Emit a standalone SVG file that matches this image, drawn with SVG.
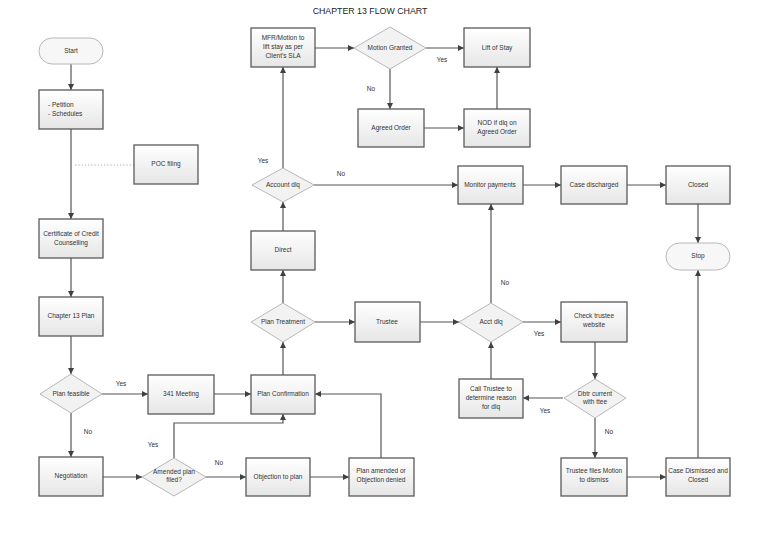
<svg xmlns="http://www.w3.org/2000/svg" width="768" height="543" viewBox="0 0 768 543">
<defs>
<linearGradient id="g" x1="0" y1="0" x2="0" y2="1"><stop offset="0" stop-color="#ffffff"/><stop offset="1" stop-color="#e6e6e6"/></linearGradient>
<marker id="a" viewBox="0 0 10 10" refX="10" refY="5" markerWidth="6" markerHeight="6" orient="auto" markerUnits="userSpaceOnUse"><path d="M0,0 L10,5 L0,10 z" fill="#404040"/></marker>
<style>
.b{fill:url(#g);stroke:#5a5a5a;stroke-width:1.3}
.d{fill:#f2f2f2;stroke:#b8b8b8;stroke-width:1}
.t{fill:#f7f7f7;stroke:#b8b8b8;stroke-width:1}
text{font-family:"Liberation Sans",Arial,sans-serif;font-size:6.5px;fill:#333;text-anchor:middle}
.c path{fill:none;stroke:#555;stroke-width:1.2;marker-end:url(#a)}
.c .dot{marker-end:none;stroke:#aaa;stroke-dasharray:1.2 2;stroke-width:1}
</style>
</defs>
<rect width="768" height="543" fill="#fff"/>
<text x="370" y="14" style="font-size:8.8px;fill:#222">CHAPTER 13 FLOW CHART</text>
<g class="c" id="connectors">
<path d="M71,64 V90"/>
<path d="M71,129 V219"/>
<path class="dot" d="M134,165 H74"/>
<path d="M71,258 V297"/>
<path d="M71,336 V374"/>
<path d="M102,394 H148"/>
<path d="M71,413 V457"/>
<path d="M214,394 H251"/>
<path d="M103,477 H142"/>
<path d="M206,477 H246"/>
<path d="M174,458 V423 H283 V414"/>
<path d="M310,477 H349"/>
<path d="M381,458 V394 H315"/>
<path d="M283,375 V342"/>
<path d="M283,303 V270"/>
<path d="M315,322 H355"/>
<path d="M283,231 V202"/>
<path d="M283,168 V67"/>
<path d="M314,185 H458"/>
<path d="M315,48 H354"/>
<path d="M426,48 H464"/>
<path d="M390,69 V109"/>
<path d="M424,128 H464"/>
<path d="M497,109 V67"/>
<path d="M420,322 H459"/>
<path d="M491,303 V204"/>
<path d="M523,322 H561"/>
<path d="M595,342 V379"/>
<path d="M563,398 H523"/>
<path d="M491,379 V342"/>
<path d="M595,418 V458"/>
<path d="M627,477 H666"/>
<path d="M698,458 V270"/>
<path d="M523,185 H561"/>
<path d="M627,185 H666"/>
<path d="M698,204 V243"/>
</g>
<g id="labels">
<text x="121" y="386">Yes</text>
<text x="88" y="434">No</text>
<text x="153" y="447">Yes</text>
<text x="219" y="465">No</text>
<text x="263" y="163">Yes</text>
<text x="341" y="176">No</text>
<text x="442" y="62">Yes</text>
<text x="371" y="91">No</text>
<text x="505" y="285">No</text>
<text x="539" y="336">Yes</text>
<text x="545" y="413">Yes</text>
<text x="609" y="434">No</text>
</g>
<g id="start"><rect class="t" x="39" y="38" width="64" height="26" rx="13"/><text x="71" y="53">Start</text></g>
<g id="petition"><rect class="b" x="39" y="90" width="64" height="39"/><text x="48" y="107" style="text-anchor:start">- Petition</text><text x="48" y="116" style="text-anchor:start">- Schedules</text></g>
<g id="poc"><rect class="b" x="134" y="145" width="64" height="39"/><text x="166" y="166">POC filing</text></g>
<g id="certificate"><rect class="b" x="39" y="219" width="64" height="39"/><text x="71" y="236">Certificate of Credit</text><text x="71" y="245">Counselling</text></g>
<g id="chapter13"><rect class="b" x="39" y="297" width="64" height="39"/><text x="71" y="318">Chapter 13 Plan</text></g>
<g id="planfeasible"><polygon class="d" points="71,374 102,394 71,413 40,394"/><text x="71" y="396">Plan feasible</text></g>
<g id="meeting341"><rect class="b" x="148" y="375" width="66" height="39"/><text x="181" y="396">341 Meeting</text></g>
<g id="negotiation"><rect class="b" x="39" y="457" width="64" height="39"/><text x="71" y="478">Negotiation</text></g>
<g id="amended"><polygon class="d" points="174,458 206,477 174,496 142,477"/><text x="174" y="474">Amended plan</text><text x="174" y="482">filed?</text></g>
<g id="planconfirmation"><rect class="b" x="251" y="375" width="64" height="39"/><text x="283" y="396">Plan Confirmation</text></g>
<g id="objection"><rect class="b" x="246" y="458" width="64" height="38"/><text x="278" y="479">Objection to plan</text></g>
<g id="planamended"><rect class="b" x="349" y="458" width="65" height="38"/><text x="381" y="473">Plan amended or</text><text x="381" y="482">Objection denied</text></g>
<g id="plantreatment"><polygon class="d" points="283,303 315,322 283,342 251,322"/><text x="283" y="324">Plan Treatment</text></g>
<g id="direct"><rect class="b" x="251" y="231" width="64" height="39"/><text x="283" y="252">Direct</text></g>
<g id="accountdlq"><polygon class="d" points="283,168 314,185 283,202 252,185"/><text x="283" y="187">Account dlq</text></g>
<g id="mfr"><rect class="b" x="251" y="28" width="64" height="39"/><text x="283" y="40">MFR/Motion to</text><text x="283" y="49">lift stay as per</text><text x="283" y="58">Client's SLA</text></g>
<g id="motiongranted"><polygon class="d" points="390,27 426,48 390,69 354,48"/><text x="390" y="50">Motion Granted</text></g>
<g id="liftofstay"><rect class="b" x="464" y="28" width="66" height="39"/><text x="497" y="50">Lift of Stay</text></g>
<g id="agreedorder"><rect class="b" x="358" y="109" width="66" height="38"/><text x="391" y="130">Agreed Order</text></g>
<g id="nod"><rect class="b" x="464" y="109" width="66" height="38"/><text x="497" y="125">NOD if dlq on</text><text x="497" y="134">Agreed Order</text></g>
<g id="trustee"><rect class="b" x="355" y="302" width="65" height="40"/><text x="387" y="324">Trustee</text></g>
<g id="acctdlq"><polygon class="d" points="491,303 523,322 491,342 459,322"/><text x="491" y="324">Acct dlq</text></g>
<g id="monitor"><rect class="b" x="458" y="166" width="65" height="38"/><text x="490" y="187">Monitor payments</text></g>
<g id="casedischarged"><rect class="b" x="561" y="166" width="66" height="38"/><text x="594" y="187">Case discharged</text></g>
<g id="closed"><rect class="b" x="666" y="166" width="64" height="38"/><text x="698" y="187">Closed</text></g>
<g id="stop"><rect class="t" x="666" y="243" width="64" height="27" rx="13.5"/><text x="698" y="258">Stop</text></g>
<g id="checktrustee"><rect class="b" x="561" y="302" width="66" height="40"/><text x="594" y="318">Check trustee</text><text x="594" y="327">website</text></g>
<g id="calltrustee"><rect class="b" x="459" y="379" width="64" height="39"/><text x="491" y="391">Call Trustee to</text><text x="491" y="400">determine reason</text><text x="491" y="409">for dlq</text></g>
<g id="dbtr"><polygon class="d" points="595,379 626,398 595,418 564,398"/><text x="595" y="396">Dbtr current</text><text x="595" y="404">with ttee</text></g>
<g id="trusteefiles"><rect class="b" x="561" y="458" width="66" height="38"/><text x="594" y="473">Trustee files Motion</text><text x="594" y="482">to dismiss</text></g>
<g id="casedismissed"><rect class="b" x="666" y="458" width="64" height="38"/><text x="698" y="473">Case Dismissed and</text><text x="698" y="482">Closed</text></g>
</svg>
